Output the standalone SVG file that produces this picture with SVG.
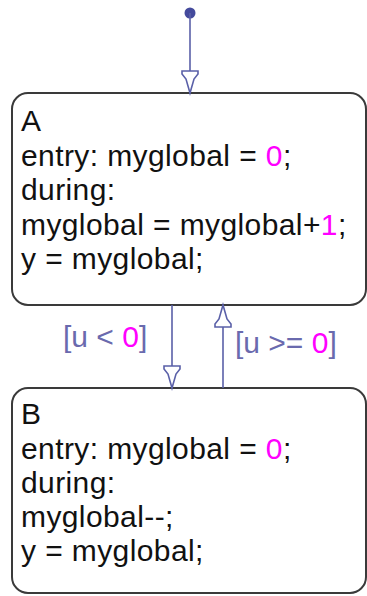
<svg xmlns="http://www.w3.org/2000/svg" width="367" height="596" viewBox="0 0 367 596">
<style>
.box{fill:#fff;stroke:#3a3a3a;stroke-width:2}
.t{font-family:"Liberation Sans",Arial,sans-serif;font-size:30px;letter-spacing:0.4px;fill:#111}
.lbl{font-family:"Liberation Sans",Arial,sans-serif;font-size:30px;fill:#6a6aae}
.num{fill:#ff00ff}
.wire{stroke:#5a60a8;stroke-width:1.6;fill:none}
.head{fill:#fff;stroke:#5a60a8;stroke-width:1.6;stroke-linejoin:miter}
</style>
<defs>
<path id="ah" d="M-8,-22 L8,-22 L8,-19 L4,-14 L0,0 L-4,-14 L-8,-19 Z"/>
</defs>
<rect width="367" height="596" fill="#fff"/>
<g id="A">
<rect class="box" x="12" y="93" width="354" height="212" rx="16" ry="16"/>
<text class="t" x="21" y="131">A</text>
<text class="t" x="21" y="166">entry: myglobal = <tspan class="num">0</tspan>;</text>
<text class="t" x="21" y="200">during:</text>
<text class="t" x="21" y="235">myglobal = myglobal+<tspan class="num">1</tspan>;</text>
<text class="t" x="21" y="269">y = myglobal;</text>
</g>
<g id="B">
<rect class="box" x="12" y="388" width="354" height="205" rx="16" ry="16"/>
<text class="t" x="21" y="424">B</text>
<text class="t" x="21" y="459">entry: myglobal = <tspan class="num">0</tspan>;</text>
<text class="t" x="21" y="493">during:</text>
<text class="t" x="21" y="527">myglobal--;</text>
<text class="t" x="21" y="561">y = myglobal;</text>
</g>
<g id="connectors">
<circle cx="190" cy="13" r="5.5" fill="#444a9c"/>
<line class="wire" x1="190" y1="13" x2="190" y2="93"/>
<use href="#ah" class="head" transform="translate(190,93)"/>
<line class="wire" x1="172" y1="305" x2="172" y2="388"/>
<use href="#ah" class="head" transform="translate(172,388)"/>
<line class="wire" x1="223" y1="388" x2="223" y2="305"/>
<use href="#ah" class="head" transform="translate(223,305) rotate(180)"/>
<text class="lbl" x="63" y="347">[u &lt; <tspan class="num">0</tspan>]</text>
<text class="lbl" x="235" y="353">[u &gt;= <tspan class="num">0</tspan>]</text>
</g>
</svg>
